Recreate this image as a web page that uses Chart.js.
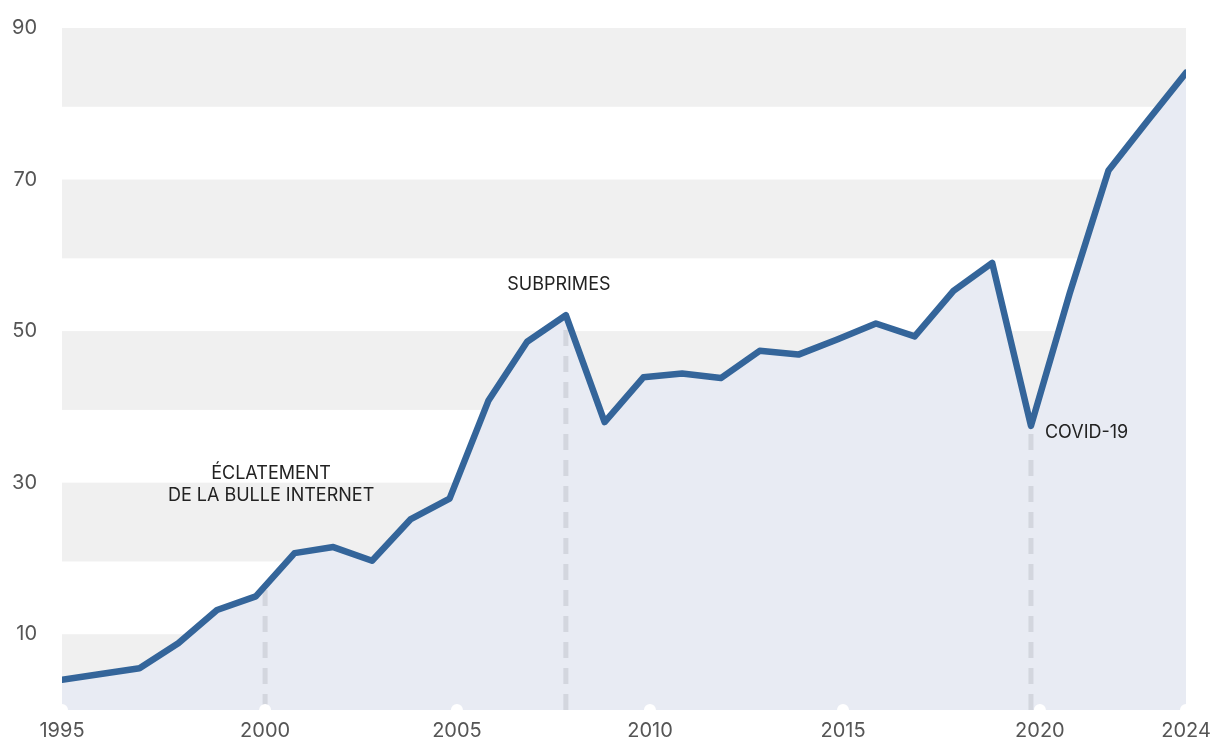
<!DOCTYPE html>
<html lang="fr">
<head>
<meta charset="UTF-8">
<title>Évolution 1995-2024</title>
<script src="https://cdn.jsdelivr.net/npm/chart.js"></script>
<style>
  html, body { margin: 0; padding: 0; background: #fff; }
  #wrap { width: 1217px; height: 740px; }
</style>
</head>
<body>
<div id="wrap"><canvas id="chart"></canvas></div>
<script>
// donnees
const years = [1995, 1996, 1997, 1998, 1999, 2000, 2001, 2002, 2003, 2004,
               2005, 2006, 2007, 2008, 2009, 2010, 2011, 2012, 2013, 2014,
               2015, 2016, 2017, 2018, 2019, 2020, 2021, 2022, 2023, 2024];
const values = [4.0, 4.75, 5.5, 8.8, 13.2, 15.0, 20.7, 21.5, 19.7, 25.2,
                27.9, 40.8, 48.6, 52.1, 38.0, 43.9, 44.4, 43.8, 47.4, 46.9,
                48.9, 51.0, 49.3, 55.3, 59.0, 37.5, 55.0, 71.2, 77.7, 84.1];

const yTicks = [10, 30, 50, 70, 90];
const xTickLabels = ['1995', '2000', '2005', '2010', '2015', '2020', '2024'];
const xTickPos = [1995, 2000.24, 2005.19, 2010.17, 2015.15, 2020.23, 2024];

const bubbleLabel = ['ÉCLATEMENT', 'DE LA BULLE INTERNET'];
const bubbleYear = 2000.24;
const subprimeLabel = 'SUBPRIMES';
const subprimeYear = 2008;
const covidLabel = 'COVID-19';
const covidYear = 2020;

const FONT = 'Inter, "Open Sans", sans-serif';

// valeur de la courbe pour une annee (interpolation entre deux points)
const valueAt = (yr) => {
    for (let i = 0; i < years.length - 1; i++) {
        if (yr >= years[i] && yr <= years[i + 1]) {
            const t = (yr - years[i]) / (years[i + 1] - years[i]);
            return values[i] + t * (values[i + 1] - values[i]);
        }
    }
    return values[values.length - 1];
};

const decor = {
    id: 'decor',
    beforeDraw(chart) {
        const { ctx, chartArea: a, scales: { y } } = chart;
        ctx.save();
        ctx.fillStyle = '#f0f0f0';
        yTicks.forEach(v => {
            const top = y.getPixelForValue(v);
            const bot = Math.min(y.getPixelForValue(v - 10.4), a.bottom);
            ctx.fillRect(a.left, top, a.right - a.left, bot - top);
        });
        ctx.restore();
    },
    beforeDatasetsDraw(chart) {
        const { ctx, chartArea: a, scales: { x, y } } = chart;
        ctx.save();
        // lignes pointillees des evenements
        ctx.strokeStyle = '#d3d6de';
        ctx.lineWidth = 5;
        ctx.setLineDash([16, 10]);
        [bubbleYear, subprimeYear, covidYear].forEach(yr => {
            const px = x.getPixelForValue(yr);
            ctx.beginPath();
            ctx.moveTo(px, a.bottom);
            ctx.lineTo(px, y.getPixelForValue(valueAt(yr)));
            ctx.stroke();
        });
        ctx.setLineDash([]);
        // petits points blancs sur l'axe
        ctx.beginPath();
        ctx.rect(a.left, a.top, a.right - a.left, a.bottom - a.top);
        ctx.clip();
        ctx.fillStyle = '#ffffff';
        xTickPos.forEach(v => {
            ctx.beginPath();
            ctx.arc(x.getPixelForValue(v), a.bottom, 6, 0, Math.PI * 2);
            ctx.fill();
        });
        ctx.restore();
    },
    afterDraw(chart) {
        const { ctx, scales: { x, y } } = chart;
        ctx.save();
        ctx.font = '18px ' + FONT;
        ctx.fillStyle = '#222222';
        ctx.textBaseline = 'middle';

        ctx.textAlign = 'center';
        const bx = x.getPixelForValue(bubbleYear) + 6;
        const by = y.getPixelForValue(valueAt(bubbleYear));
        ctx.fillText(bubbleLabel[0], bx, by - 112);
        ctx.fillText(bubbleLabel[1], bx, by - 90);

        const sx = x.getPixelForValue(subprimeYear) - 7;
        const sy = y.getPixelForValue(valueAt(subprimeYear));
        ctx.fillText(subprimeLabel, sx, sy - 31);

        ctx.textAlign = 'left';
        const cx = x.getPixelForValue(covidYear) + 14;
        const cy = y.getPixelForValue(valueAt(covidYear));
        ctx.fillText(covidLabel, cx, cy + 7);
        ctx.restore();
    }
};

new Chart(document.getElementById('chart'), {
    type: 'line',
    data: {
        datasets: [{
            data: years.map((yr, i) => ({ x: yr, y: values[i] })),
            borderColor: '#34659a',
            backgroundColor: '#e8ebf3',
            borderWidth: 6.5,
            borderCapStyle: 'round',
            borderJoinStyle: 'round',
            tension: 0,
            pointRadius: 0,
            fill: 'origin'
        }]
    },
    options: {
        responsive: true,
        maintainAspectRatio: false,
        animation: false,
        layout: { padding: { top: 28, right: 31, left: 0, bottom: 0 } },
        plugins: {
            legend: { display: false },
            tooltip: { enabled: false },
            filler: { drawTime: 'beforeDatasetsDraw' }
        },
        scales: {
            x: {
                type: 'linear',
                min: 1995,
                max: 2024,
                grid: { display: false, drawTicks: false },
                border: { display: false },
                afterBuildTicks: (s) => { s.ticks = xTickPos.map(v => ({ value: v })); },
                afterFit: (s) => {
                    s.height = 30;
                    s.paddingLeft = 0;
                    s.paddingRight = 0;
                },
                ticks: {
                    autoSkip: false,
                    maxRotation: 0,
                    padding: 9,
                    color: '#555555',
                    font: { family: FONT, size: 20 },
                    callback: (v, i) => xTickLabels[i]
                }
            },
            y: {
                min: 0,
                max: 90,
                grid: { display: false, drawTicks: false },
                border: { display: false },
                afterBuildTicks: (s) => { s.ticks = yTicks.map(v => ({ value: v })); },
                afterFit: (s) => {
                    s.width = 62;
                    s.paddingTop = 0;
                    s.paddingBottom = 0;
                },
                ticks: {
                    padding: 25,
                    color: '#555555',
                    font: { family: FONT, size: 20 }
                }
            }
        }
    },
    plugins: [decor]
});
</script>
</body>
</html>
